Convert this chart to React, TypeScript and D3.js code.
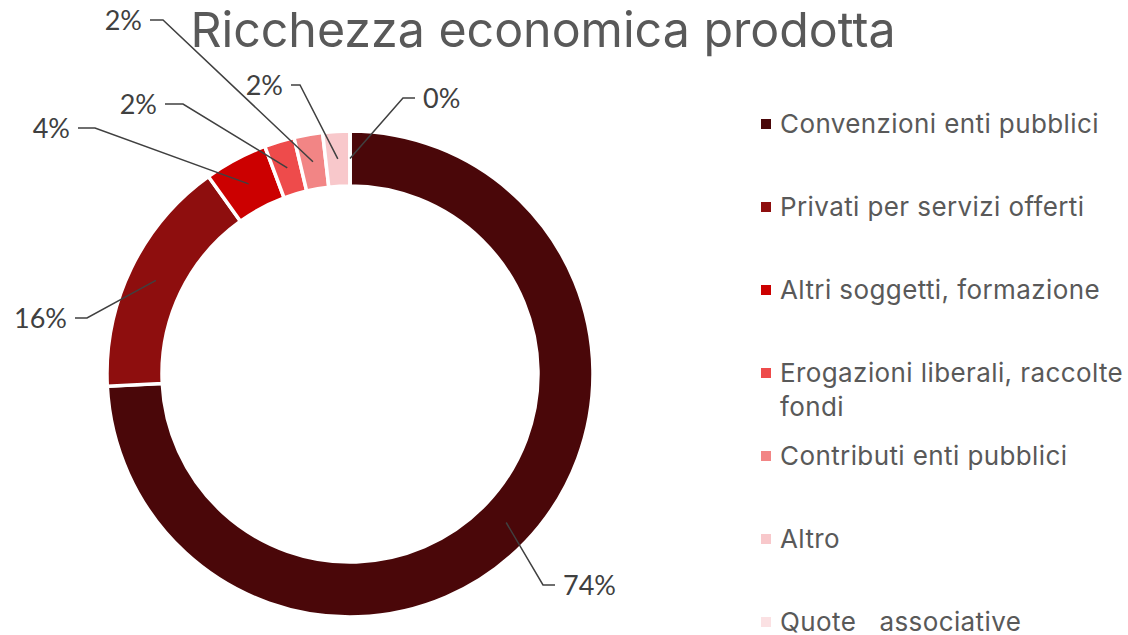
import React from "react";
import * as d3 from "d3";

const categories = [
  "Convenzioni enti pubblici",
  "Privati per servizi offerti",
  "Altri soggetti, formazione",
  "Erogazioni liberali, raccolte fondi",
  "Contributi enti pubblici",
  "Altro",
  "Quote   associative",
];
const values = [74.2, 15.9, 4.2, 2.0, 1.9, 1.8, 0.0];
const colors = ["#4A0709", "#8E0E0E", "#CC0000", "#EE4B4B", "#F28585", "#F8C8CB", "#FBE1E3"];
const legendLines = [
  ["Convenzioni enti pubblici"],
  ["Privati per servizi offerti"],
  ["Altri soggetti, formazione"],
  ["Erogazioni liberali, raccolte", "fondi"],
  ["Contributi enti pubblici"],
  ["Altro"],
  ["Quote   associative"],
];
// label layout: elbow point, end of horizontal segment, text anchor side
const labelLayout = [
  { ex: 543, ey: 585, hx: 555, side: "start" },
  { ex: 87, ey: 318, hx: 75, side: "end" },
  { ex: 95, ey: 128, hx: 78, side: "end" },
  { ex: 183, ey: 104, hx: 165, side: "end" },
  { ex: 163, ey: 20, hx: 150, side: "end" },
  { ex: 300, ey: 85, hx: 291, side: "end" },
  { ex: 403, ey: 98, hx: 415, side: "start" },
];

const W = 1128;
const H = 635;
const cx = 350;
const cy = 374;
const rOuter = 243;
const rInner = 188;

export default function App() {
  const total = d3.sum(values);
  const pie = d3.pie<number>().sort(null).value((d) => d).startAngle(0).endAngle(2 * Math.PI);
  const arcs = pie(values);
  const arc = d3.arc<d3.PieArcDatum<number>>().innerRadius(rInner).outerRadius(rOuter);
  const fmt = (v: number) => `${Math.round((v / total) * 100)}%`;

  return (
    <svg width={W} height={H} style={{ position: "absolute", left: 0, top: 0, background: "#fff" }}>
      <text
        x={543}
        y={47}
        textAnchor="middle"
        fontFamily="Inter, 'Open Sans', sans-serif"
        fontSize={48.3}
        fill="#595959"
      >
        Ricchezza economica prodotta
      </text>
      <g transform={`translate(${cx},${cy})`}>
        {arcs.map((a, i) => (
          <path key={i} d={arc(a) || ""} fill={colors[i]} stroke="#fff" strokeWidth={3.5} />
        ))}
      </g>
      {arcs.map((a, i) => {
        const [px, py] = arc.centroid(a);
        const L = labelLayout[i];
        const tx = L.side === "start" ? L.hx + 8 : L.hx - 8;
        return (
          <g key={i}>
            <polyline
              points={`${cx + px},${cy + py} ${L.ex},${L.ey} ${L.hx},${L.ey}`}
              fill="none"
              stroke="#404040"
              strokeWidth={1.5}
            />
            <text
              x={tx}
              y={L.ey}
              dy="0.36em"
              textAnchor={L.side}
              fontFamily="Lato, 'Open Sans', sans-serif"
              fontSize={27}
              fill="#404040"
            >
              {fmt(values[i])}
            </text>
          </g>
        );
      })}
      <g>
        {categories.map((c, i) => {
          const y = 124 + i * 83;
          return (
            <g key={c}>
              <rect x={761} y={y - 5} width={10} height={10} fill={colors[i]} />
              {legendLines[i].map((ln, j) => (
                <text
                  key={j}
                  x={780}
                  y={y + j * 34}
                  dy="0.36em"
                  fontFamily="Inter, 'Open Sans', sans-serif"
                  fontSize={26}
                  letterSpacing={0.4}
                  fill="#595959"
                  style={{ whiteSpace: "pre" }}
                >
                  {ln}
                </text>
              ))}
            </g>
          );
        })}
      </g>
    </svg>
  );
}
